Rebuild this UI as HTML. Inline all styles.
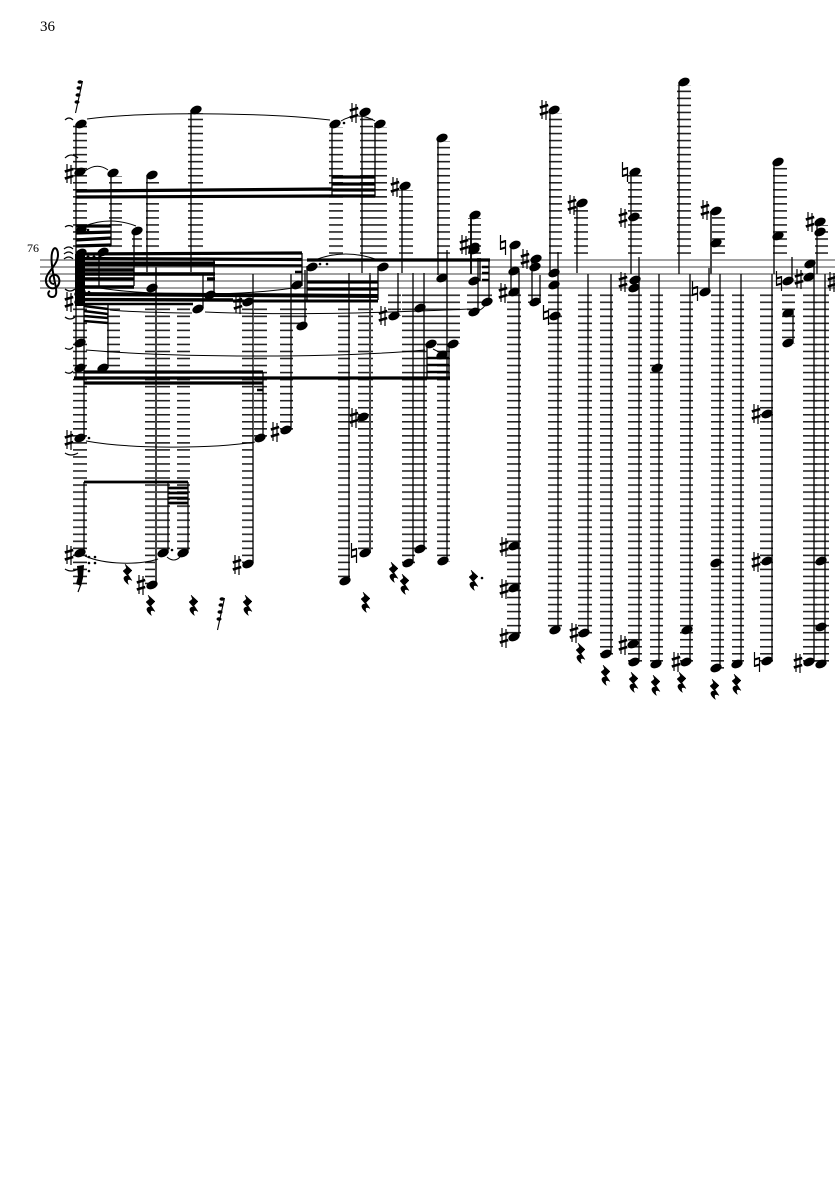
<!DOCTYPE html>
<html><head><meta charset="utf-8"><style>
html,body{margin:0;padding:0;background:#fff}
svg{display:block}
text{font-family:"Liberation Serif",serif;fill:#000}
</style></head><body>
<svg xmlns="http://www.w3.org/2000/svg" width="835" height="1181" viewBox="0 0 835 1181">
<defs>
<pattern id="L" patternUnits="userSpaceOnUse" x="0" y="259.3" width="835" height="7.03"><rect x="0" y="0" width="835" height="1.6" fill="#222"/></pattern>
<ellipse id="n" rx="5.9" ry="4" transform="rotate(-24)" fill="#000"/>
<g id="s"><path d="M-2-10V9M2-9V10" stroke="#000" stroke-width="1.200" fill="none"/><path d="M-4.200-2.500L4.200-5M-4.200 4.500L4.200 2" stroke="#000" stroke-width="2.600" fill="none"/></g>
<g id="h"><path d="M-2.500-10V5M2.500-5V10" stroke="#000" stroke-width="1.200" fill="none"/><path d="M-2.500-2.500L2.500-4M-2.500 4L2.500 2.500" stroke="#000" stroke-width="2.200" fill="none"/></g>
<path id="r" d="M-2-10L5-3.500L1 .5L5 6.500C1.500 4.500-1 5.500 1.500 10.500C-5 6-4 1.500 .5 2L-4-3L-.5-6Z" fill="#000" stroke="#000" stroke-width=".5"/>
<g id="g"><path d="M3.500-16L-3.500 16" stroke="#000" stroke-width="1.100" fill="none"/><ellipse cx="1" cy="-15" rx="2.500" ry="1.800" fill="#000"/><ellipse cx="0" cy="-9" rx="2.500" ry="1.800" fill="#000"/><ellipse cx="-1" cy="-2" rx="2.500" ry="1.800" fill="#000"/><ellipse cx="-2" cy="5" rx="2.500" ry="1.800" fill="#000"/></g>
</defs>

<text x="40" y="31" font-size="15">36</text>
<text x="27" y="252" font-size="12">76</text>

<!-- ledger columns -->
<g fill="url(#L)">
<rect x="73" y="125" width="14" height="125"/><rect x="109" y="176" width="13" height="72"/><rect x="132" y="233" width="10" height="15"/><rect x="146" y="178" width="13" height="70"/><rect x="188" y="113" width="15" height="135"/>
<rect x="329" y="127" width="14" height="127"/><rect x="360" y="115" width="13" height="139"/><rect x="373" y="127" width="14" height="127"/><rect x="399" y="190" width="14" height="64"/><rect x="437" y="141" width="13" height="113"/><rect x="468" y="218" width="13" height="36"/>
<rect x="549" y="113" width="13" height="141"/><rect x="574" y="205" width="14" height="49"/><rect x="628" y="175" width="14" height="79"/><rect x="677" y="85" width="14" height="169"/><rect x="712" y="214" width="13" height="40"/><rect x="773" y="165" width="14" height="89"/><rect x="815" y="225" width="13" height="29"/>
<rect x="73" y="308" width="14" height="278"/><rect x="107" y="308" width="13" height="61"/><rect x="145" y="308" width="12" height="278"/><rect x="157" y="308" width="13" height="246"/><rect x="177" y="308" width="13" height="246"/>
<rect x="242" y="308" width="11" height="257"/><rect x="254" y="308" width="13" height="131"/><rect x="280" y="308" width="13" height="123"/><rect x="293" y="308" width="14" height="19"/>
<rect x="338" y="308" width="12" height="274"/><rect x="358" y="308" width="15" height="246"/>
<rect x="388" y="294" width="13" height="22"/><rect x="402" y="294" width="13" height="270"/><rect x="415" y="294" width="12" height="256"/><rect x="427" y="294" width="10" height="50"/><rect x="437" y="294" width="13" height="268"/><rect x="450" y="294" width="10" height="50"/>
<rect x="467" y="294" width="13" height="19"/><rect x="480" y="294" width="12" height="9"/>
<rect x="507" y="294" width="14" height="343"/><rect x="528" y="294" width="13" height="9"/><rect x="548" y="294" width="14" height="337"/><rect x="578" y="294" width="14" height="340"/><rect x="600" y="294" width="13" height="361"/><rect x="628" y="294" width="14" height="369"/><rect x="650" y="294" width="13" height="371"/><rect x="680" y="294" width="13" height="369"/><rect x="711" y="294" width="13" height="375"/><rect x="732" y="294" width="12" height="371"/><rect x="760" y="294" width="13" height="368"/><rect x="782" y="294" width="13" height="50"/><rect x="803" y="294" width="14" height="369"/><rect x="815" y="294" width="14" height="371"/>
</g>

<!-- staff -->
<path d="M40 260H835M40 267H835M40 274H835M40 281H835M40 288H835" stroke="#808080" stroke-width="1.400" fill="none"/>

<!-- clef -->
<path d="M54 284C49 284 48 277 53 275C60 273 62 285 55 288C48 290 43 282 48 274C52 268 58 262 58 255C58 249 55 246 53 250C50 256 52 268 55 283C57 292 57 297 52 297C48 297 47 292 50 291" stroke="#000" stroke-width="2" fill="none"/>

<!-- stems -->
<path stroke="#000" stroke-width="1.300" fill="none" d="M76 124V378M84 262V438M84 482V553M111 173V246M147 175V272M191 110V272M134 231V286M108 305V368M99 255V287M203 275V308M214 260V295M253 274V563M263 372V438M291 274V430M168 482V553M188 482V553
M332 123V197M362 112V273M375 123V197M402 186V273M438 138V275M305 270V326M307 266V300M302 253V286M378 266V300M349 273V581M398 273V315M413 273V563M424 273V549M447 250V561M427 345V378M449 344V378M478 258V310M480 258V281M489 260V302
M511 245V292M519 271V636M532 260V302M540 275V302M550 110V272M558 252V630M577 203V273M588 274V633M611 274V654M631 172V274M639 257V290M639 290V662M659 274V664M679 82V274M690 274V662M709 268V292M720 274V668M741 274V664M774 162V274M772 274V661M792 257V281M793 310V343M814 260V662M817 222V274M825 274V664"/>
<path stroke="#444" stroke-width="2" fill="none" d="M156 267V585M370 273V553M711 211V274"/>
<path stroke="#000" stroke-width="1.800" fill="none" d="M471 215V274"/>

<!-- beams -->
<g stroke="#000" fill="none" stroke-width="3.200">
<path d="M76 191L332 189M76 197L332 196M332 177H375M332 184H375M332 190H375M332 196H375"/>
<path d="M76 226L111 226M76 233L111 232M76 240L111 238M76 246L111 245"/>
<path d="M76 254L302 253M76 258.500L302 259.500" stroke-width="3.200"/>
<path d="M76 265L302 265.500" stroke-width="2.600"/>
<path d="M76 263H215" stroke-width="3"/>
<path d="M76 270H134M76 274H215" stroke-width="3.600"/>
<path d="M84 279H134M84 287H134" stroke-width="3.400"/>
<path d="M207 279H215" stroke-width="3.500"/>
<path d="M295 272H302" stroke-width="2.600"/>
<path d="M75 294L378 296" stroke-width="4"/>
<path d="M75 299.500L233 300" stroke-width="3.400"/>
<path d="M233 301H378" stroke-width="3"/>
<path d="M75 304L193 304" stroke-width="2.400"/>
<path d="M84 306L108 309M84 311L108 314M84 316L108 318M84 321L108 323" stroke-width="2.600"/>
<path d="M307 260H490"/>
<path d="M307 282H378M307 289H378"/>
<path d="M482 267H489M482 273H489M482 280H489" stroke-width="2.600"/>
<path d="M84 372H263M74 378H450M84 383H263"/>
<path d="M257 390H263" stroke-width="2.500"/>
<path d="M427 358H449M427 365H449M427 372H449" stroke-width="2.500"/>
<path d="M84 482H188M168 488H188M168 493H188M168 498H188M168 503H188" stroke-width="2.800"/>
</g>
<rect x="75" y="254" width="10" height="52" fill="#000"/>

<!-- noteheads -->
<g>
<use href="#n" x="81" y="124"/><use href="#n" x="80" y="172"/><use href="#n" x="113" y="173"/><use href="#n" x="152" y="175"/><use href="#n" x="196" y="110"/><use href="#n" x="137" y="231"/><use href="#n" x="81" y="230"/><use href="#n" x="81" y="253"/><use href="#n" x="103" y="252"/><use href="#n" x="152" y="288"/><use href="#n" x="198" y="309"/><use href="#n" x="210" y="295"/><use href="#n" x="80" y="293"/><use href="#n" x="80" y="301"/><use href="#n" x="80" y="343"/><use href="#n" x="80" y="368"/><use href="#n" x="103" y="368"/><use href="#n" x="80" y="438"/><use href="#n" x="80" y="553"/><use href="#n" x="260" y="438"/><use href="#n" x="286" y="430"/><use href="#n" x="163" y="553"/><use href="#n" x="183" y="553"/><use href="#n" x="152" y="585"/><use href="#n" x="248" y="564"/><use href="#n" x="248" y="302"/>
<use href="#n" x="335" y="124"/><use href="#n" x="365" y="112"/><use href="#n" x="380" y="124"/><use href="#n" x="405" y="186"/><use href="#n" x="442" y="138"/><use href="#n" x="475" y="215"/><use href="#n" x="474" y="247"/><use href="#n" x="474" y="250"/><use href="#n" x="474" y="281"/><use href="#n" x="487" y="302"/><use href="#n" x="474" y="312"/><use href="#n" x="453" y="344"/><use href="#n" x="431" y="344"/><use href="#n" x="442" y="355"/><use href="#n" x="394" y="316"/><use href="#n" x="420" y="308"/><use href="#n" x="383" y="267"/><use href="#n" x="312" y="267"/><use href="#n" x="297" y="285"/><use href="#n" x="302" y="326"/><use href="#n" x="442" y="278"/><use href="#n" x="363" y="417"/><use href="#n" x="365" y="553"/><use href="#n" x="345" y="581"/><use href="#n" x="408" y="563"/><use href="#n" x="420" y="549"/><use href="#n" x="443" y="561"/>
<use href="#n" x="515" y="245"/><use href="#n" x="514" y="271"/><use href="#n" x="514" y="292"/><use href="#n" x="514" y="546"/><use href="#n" x="514" y="588"/><use href="#n" x="514" y="637"/><use href="#n" x="536" y="259"/><use href="#n" x="535" y="267"/><use href="#n" x="535" y="302"/><use href="#n" x="554" y="273"/><use href="#n" x="554" y="285"/><use href="#n" x="555" y="316"/><use href="#n" x="554" y="110"/><use href="#n" x="555" y="630"/><use href="#n" x="582" y="203"/><use href="#n" x="584" y="633"/><use href="#n" x="606" y="654"/><use href="#n" x="634" y="217"/><use href="#n" x="635" y="172"/><use href="#n" x="635" y="280"/><use href="#n" x="634" y="288"/><use href="#n" x="633" y="644"/><use href="#n" x="634" y="662"/><use href="#n" x="656" y="664"/><use href="#n" x="657" y="368"/><use href="#n" x="684" y="82"/><use href="#n" x="716" y="211"/><use href="#n" x="716" y="243"/><use href="#n" x="705" y="292"/><use href="#n" x="687" y="630"/><use href="#n" x="686" y="662"/><use href="#n" x="716" y="668"/><use href="#n" x="716" y="563"/><use href="#n" x="737" y="664"/><use href="#n" x="778" y="162"/><use href="#n" x="778" y="236"/><use href="#n" x="788" y="281"/><use href="#n" x="767" y="414"/><use href="#n" x="767" y="561"/><use href="#n" x="767" y="661"/><use href="#n" x="788" y="313"/><use href="#n" x="788" y="343"/><use href="#n" x="810" y="264"/><use href="#n" x="809" y="277"/><use href="#n" x="809" y="662"/><use href="#n" x="820" y="222"/><use href="#n" x="820" y="232"/><use href="#n" x="821" y="561"/><use href="#n" x="821" y="627"/><use href="#n" x="821" y="664"/>
</g>

<!-- sharps & naturals -->
<g>
<use href="#s" x="69" y="174"/><use href="#s" x="69" y="302"/><use href="#s" x="69" y="440"/><use href="#s" x="69" y="555"/><use href="#s" x="141" y="585"/><use href="#s" x="237" y="565"/><use href="#s" x="238" y="304"/><use href="#s" x="275" y="432"/><use href="#s" x="354" y="113"/><use href="#s" x="395" y="187"/><use href="#s" x="383" y="316"/><use href="#s" x="464" y="245"/><use href="#s" x="354" y="418"/><use href="#s" x="503" y="293"/><use href="#s" x="525" y="259"/><use href="#s" x="504" y="547"/><use href="#s" x="504" y="589"/><use href="#s" x="504" y="638"/><use href="#s" x="544" y="110"/><use href="#s" x="572" y="205"/><use href="#s" x="574" y="633"/><use href="#s" x="623" y="218"/><use href="#s" x="623" y="282"/><use href="#s" x="623" y="645"/><use href="#s" x="705" y="210"/><use href="#s" x="676" y="662"/><use href="#s" x="756" y="414"/><use href="#s" x="756" y="562"/><use href="#s" x="799" y="279"/><use href="#s" x="810" y="222"/><use href="#s" x="798" y="663"/><use href="#s" x="832" y="282"/>
<use href="#h" x="503" y="245"/><use href="#h" x="546" y="315"/><use href="#h" x="625" y="172"/><use href="#h" x="695" y="291"/><use href="#h" x="779" y="281"/><use href="#h" x="757" y="662"/><use href="#h" x="354" y="553"/>
</g>

<!-- rests -->
<g>
<use href="#r" x="127" y="574"/><use href="#r" x="150" y="605"/><use href="#r" x="193" y="605"/><use href="#r" x="247" y="605"/><use href="#r" x="365" y="602"/><use href="#r" x="393" y="572"/><use href="#r" x="404" y="584"/><use href="#r" x="473" y="580"/><use href="#r" x="580" y="653"/><use href="#r" x="605" y="675"/><use href="#r" x="633" y="682"/><use href="#r" x="655" y="685"/><use href="#r" x="681" y="682"/><use href="#r" x="714" y="689"/><use href="#r" x="736" y="684"/>
</g>

<!-- grace notes -->
<use href="#g" x="79" y="97"/><use href="#g" x="221" y="614"/>
<path d="M77 566L84 565L83 578L81 586L76 584L78 576Z" fill="#000"/><path d="M81 584L78 592" stroke="#000" stroke-width="1.200" fill="none"/>

<!-- dots -->
<g fill="#000">
<circle cx="88" cy="230" r="1.300"/><circle cx="88" cy="257" r="1.500"/><circle cx="94" cy="257" r="1.500"/><circle cx="100" cy="257" r="1.500"/><circle cx="89" cy="292" r="1.300"/><circle cx="89" cy="438" r="1.300"/><circle cx="89" cy="557" r="1.300"/><circle cx="95" cy="557" r="1.300"/><circle cx="89" cy="563" r="1.300"/><circle cx="95" cy="563" r="1.300"/><circle cx="89" cy="571" r="1.300"/><circle cx="172" cy="550" r="1.300"/><circle cx="320" cy="264" r="1.300"/><circle cx="327" cy="264" r="1.300"/><circle cx="344" cy="123" r="1.300"/><circle cx="482" cy="578" r="1.300"/>
</g>

<!-- slurs -->
<g stroke="#000" stroke-width="1" fill="none">
<path d="M87 119C150 111 270 113 330 120"/>
<path d="M341 121Q358 111 375 121"/>
<path d="M85 171Q97 162 108 170"/>
<path d="M85 226Q110 216 136 226"/>
<path d="M315 260Q345 248 378 260"/>
<path d="M86 441C130 449 210 449 255 442"/>
<path d="M85 556C105 565 140 565 158 559"/>
<path d="M167 557Q174 563 180 557"/>
<path d="M86 350C180 358 340 358 425 350"/>
<path d="M88 371Q94 375 100 371"/>
<path d="M100 288C150 296 240 296 293 288"/>
<path d="M110 310C130 312 180 313 192 313"/>
<path d="M205 312C300 316 400 312 470 309"/>
<path d="M478 311Q483 309 486 304"/>
<path d="M433 349L443 354"/>
<path d="M65 120Q69 116 73 120M65 158Q71 152 78 158M65 227Q69 224 73 227M64 249Q69 245 73 249M64 254Q69 250 73 254M64 259Q69 255 73 259M65 289Q70 293 75 289M65 317Q70 321 75 317M65 348Q70 351 73 347M65 372Q70 375 73 371M65 453Q71 457 78 453M65 569Q71 573 78 569" stroke-width="1.200"/>
</g>
</svg>
</body></html>
